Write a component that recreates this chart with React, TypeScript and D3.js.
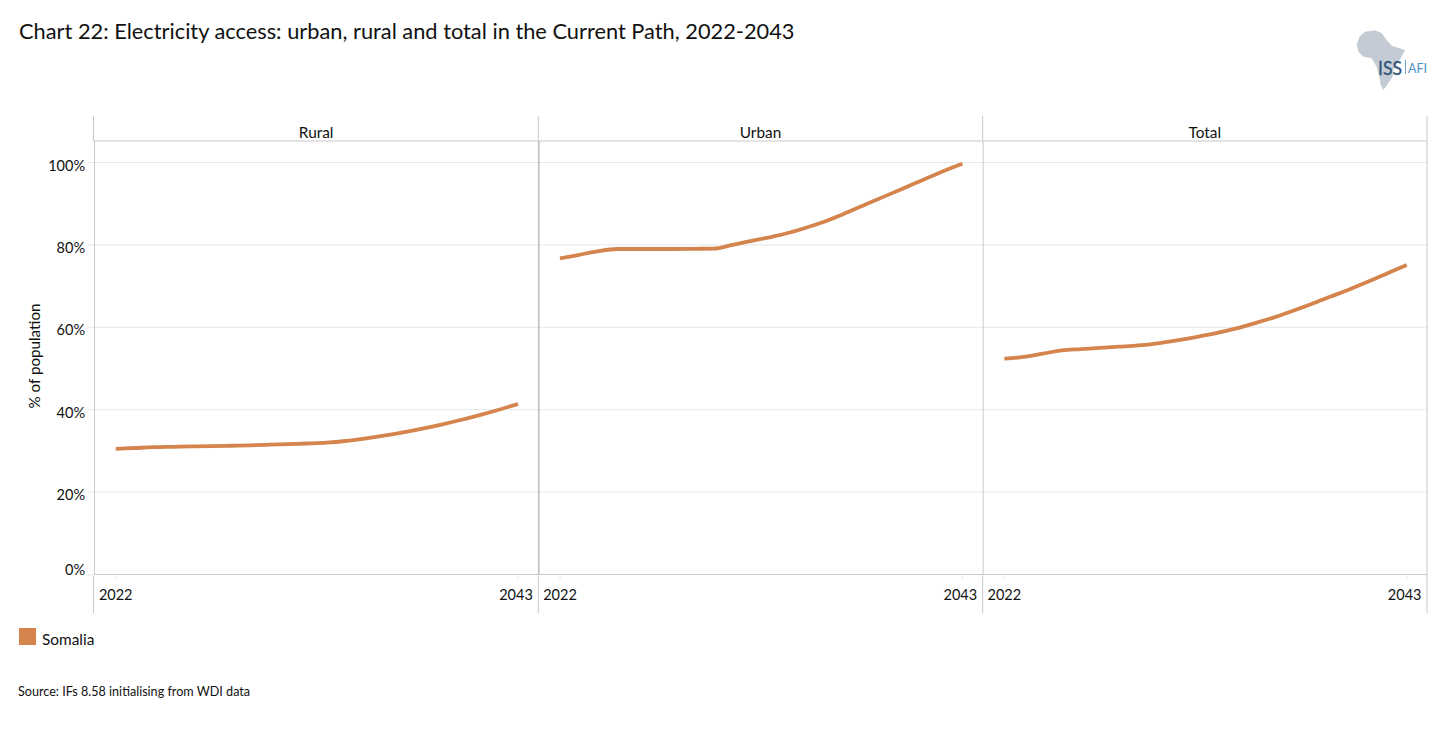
import React from 'react';
import * as d3 from 'd3';

const panels = ['Rural', 'Urban', 'Total'];
const years = d3.range(2022, 2044);
const rural = [30.5, 30.7, 30.9, 31.0, 31.1, 31.15, 31.25, 31.35, 31.5, 31.65, 31.8, 32.0, 32.4, 33.0, 33.7, 34.5, 35.4, 36.4, 37.5, 38.7, 40.0, 41.4];
const urban = [76.7, 77.6, 78.5, 79.0, 79.0, 79.0, 79.0, 79.05, 79.1, 80.0, 81.0, 81.9, 83.0, 84.4, 86.0, 87.9, 89.9, 91.9, 93.9, 95.9, 97.9, 99.7];
const total = [52.4, 52.8, 53.6, 54.4, 54.7, 55.0, 55.3, 55.6, 56.1, 56.8, 57.6, 58.5, 59.6, 60.9, 62.3, 63.9, 65.6, 67.4, 69.2, 71.1, 73.1, 75.1];
const seriesValues = [rural, urban, total];
const yTicks = [0, 20, 40, 60, 80, 100];
const xLabels = [2022, 2043];
const legendLabel = 'Somalia';

const width = 1443;
const height = 729;
const font = 'Lato, "Open Sans", sans-serif';
const orange = '#D4844C';
const gridColor = '#E6E6E6';
const axisColor = '#C9C9C9';
const textColor = '#111';

const left = 94;
const right = 1427;
const headerTop = 116;
const headerBottom = 141;
const plotBottom = 574.5;
const axisBottom = 613;

const y = d3.scaleLinear().domain([0, 100]).range([plotBottom, 162.5]);
const panelBand = d3.scaleBand<string>().domain(panels).range([left, right]);

// africa outline for the logo, rough trace at 3x
const africa = 'M20,60 L28,35 L45,20 L75,16 L95,25 L110,45 L125,62 L165,75 L155,95 L140,120 L130,135 L128,155 L115,175 L100,195 L92,180 L88,155 L80,125 L65,100 L40,95 L25,80 Z';

const App = () => {
  const line = (x: d3.ScaleLinear<number, number>) =>
    d3.line<number>()
      .x((_, i) => x(years[i]))
      .y(d => y(d))
      .curve(d3.curveMonotoneX);

  return (
    <svg width={width} height={height} viewBox={`0 0 ${width} ${height}`}
      style={{ position: 'absolute', left: 0, top: 0, background: '#fff' }} fontFamily={font}>
      <text x={19} y={39} fontSize={21.8} fill={textColor}>
        Chart 22: Electricity access: urban, rural and total in the Current Path, 2022-2043
      </text>

      {/* logo */}
      <g transform="translate(1350,25) scale(0.3333)">
        <path d={africa} fill="#C5CBD4" />
      </g>
      <text x={1378} y={74.5} fontSize={19.5} fill="#2F5378" stroke="#2F5378" strokeWidth={0.3} textLength={24} lengthAdjust="spacingAndGlyphs">ISS</text>
      <line x1={1405.5} x2={1405.5} y1={60} y2={74} stroke="#6FA3CC" strokeWidth={1} />
      <text x={1408} y={73} fontSize={14} fill="#4D94C8" textLength={19} lengthAdjust="spacingAndGlyphs">AFI</text>

      {/* gridlines */}
      {yTicks.filter(t => t > 0).map(t => (
        <line key={t} x1={88} x2={right} y1={y(t)} y2={y(t)} stroke={gridColor} strokeWidth={1} />
      ))}

      {/* frame */}
      <line x1={88} x2={94} y1={plotBottom + 0.5} y2={plotBottom + 0.5} stroke={gridColor} />
      <line x1={94} x2={right} y1={headerBottom} y2={headerBottom} stroke={axisColor} strokeWidth={1} />
      <line x1={94} x2={right} y1={plotBottom} y2={plotBottom} stroke={axisColor} strokeWidth={1} />
      <line x1={93.5} x2={93.5} y1={headerTop} y2={headerBottom} stroke={axisColor} />
      <line x1={94.5} x2={94.5} y1={headerBottom} y2={plotBottom} stroke={axisColor} />
      <line x1={93.5} x2={93.5} y1={plotBottom + 1} y2={axisBottom} stroke={axisColor} />
      <line x1={right} x2={right} y1={headerTop} y2={axisBottom} stroke={axisColor} />

      {yTicks.map(t => (
        <text key={t} x={85} y={t === 0 ? y(t) : y(t) + 8} fontSize={14.5} textAnchor="end" fill={textColor}>{t}%</text>
      ))}
      <text transform="translate(40,356) rotate(-90)" fontSize={15.2} textAnchor="middle" fill={textColor}>% of population</text>

      {panels.map((name, i) => {
        const p = panelBand(name) as number;
        const x = d3.scaleLinear().domain([2022, 2043]).range([p + 21.7, p + 424]);
        return (
          <g key={name}>
            {i > 0 && (
              <>
                <line x1={p} x2={p} y1={headerTop} y2={headerBottom} stroke={axisColor} />
                <line x1={p + 0.5} x2={p + 0.5} y1={headerBottom} y2={plotBottom} stroke={axisColor} strokeWidth={i === 1 ? 2 : 1} />
                <line x1={p} x2={p} y1={plotBottom + 1} y2={axisBottom} stroke={axisColor} />
              </>
            )}
            <text x={p + panelBand.bandwidth() / 2} y={138} fontSize={15.4} textAnchor="middle" fill={textColor}>{name}</text>
            {xLabels.map(year => (
              <g key={year}>
                <line x1={x(year)} x2={x(year)} y1={plotBottom} y2={plotBottom + 5} stroke={gridColor} />
                <text x={year === 2022 ? x(year) : x(year) - 2} y={599.5} fontSize={14.5} textAnchor="middle" fill={textColor}>{year}</text>
              </g>
            ))}
            <path d={line(x)(seriesValues[i]) as string} fill="none" stroke={orange} strokeWidth={3.8} />
          </g>
        );
      })}

      {/* legend */}
      <rect x={19} y={628} width={17} height={17} fill={orange} />
      <text x={42} y={645} fontSize={15.4} fill={textColor}>{legendLabel}</text>

      <text x={18} y={696} fontSize={12.6} fill={textColor}>Source: IFs 8.58 initialising from WDI data</text>
    </svg>
  );
};

export default App;
